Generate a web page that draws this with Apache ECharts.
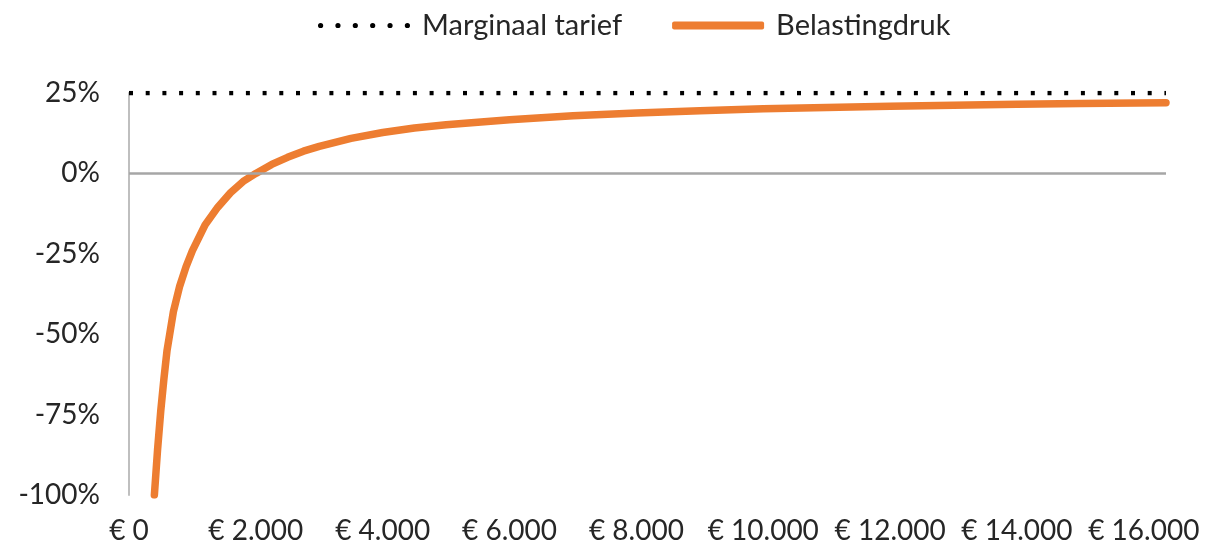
<!DOCTYPE html>
<html>
<head>
<meta charset="utf-8">
<script src="https://cdn.jsdelivr.net/npm/echarts@6/dist/echarts.min.js"></script>
<style>
  html, body { margin: 0; padding: 0; background: #fff; }
  #chart { width: 1208px; height: 551px; }
</style>
</head>
<body>
<div id="chart"></div>
<script>
// Income (€) and effective tax rate (%)
const incomes = [400, 450, 500, 550, 600, 700, 800, 900, 1000, 1200, 1400, 1600, 1800, 2000, 2250, 2500, 2750, 3000, 3500, 4000, 4500, 5000, 6000, 7000, 8000, 9000, 10000, 11000, 12000, 13000, 14000, 15000, 16350];
const belastingdruk = [-100, -86, -74, -64, -55, -43, -35, -29, -24, -16, -10.5, -6, -2.5, 0, 2.8, 5, 6.9, 8.4, 10.9, 12.7, 14.1, 15.1, 16.7, 17.9, 18.8, 19.5, 20.1, 20.5, 20.9, 21.2, 21.5, 21.7, 22];
const marginaalIncomes = [0, 16350];
const marginaalTarief = [25, 25];
const seriesNames = ['Marginaal tarief', 'Belastingdruk'];
const yTicks = { min: -100, max: 25, interval: 25 };
const xTicks = { min: 0, max: 16350, interval: 2000 };

function euro(v) {
  return '€ ' + String(Math.round(v)).replace(/\B(?=(\d{3})+(?!\d))/g, '.');
}

// legend icon: six dots (box padded with move-to points to 92x8)
function dotsIcon() {
  let p = 'path://M0 0 M92 8 ';
  const r = 2.6;
  for (let i = 0; i < 6; i++) {
    const cx = 2.6 + i * 17.36;
    p += 'M' + (cx - r) + ' 4 a' + r + ' ' + r + ' 0 1 0 ' + (2 * r) + ' 0 a' + r + ' ' + r + ' 0 1 0 ' + (-2 * r) + ' 0 Z ';
  }
  return p;
}

const FONT = 'Lato';
const chart = echarts.init(document.getElementById('chart'));
chart.setOption({
  animation: false,
  textStyle: { fontFamily: FONT },
  legend: {
    top: 6,
    left: 313,
    itemWidth: 92,
    itemHeight: 8,
    itemGap: 50,
    textStyle: { fontFamily: FONT, fontSize: 29, color: '#262626', padding: [0, 0, 0, 7] },
    data: [
      { name: seriesNames[0], icon: dotsIcon(), itemStyle: { color: '#000', borderWidth: 0 } },
      { name: seriesNames[1], icon: 'roundRect', itemStyle: { color: '#ED7D31', borderWidth: 0 } }
    ]
  },
  grid: { left: 129, right: 42, top: 93, bottom: 56, containLabel: false },
  xAxis: {
    type: 'value',
    min: xTicks.min,
    max: xTicks.max,
    interval: xTicks.interval,
    axisLine: { show: false },
    axisTick: { show: false },
    splitLine: { show: false },
    axisLabel: {
      showMaxLabel: false,
      margin: 22,
      fontFamily: FONT,
      fontSize: 28,
      color: '#262626',
      formatter: euro
    }
  },
  yAxis: {
    type: 'value',
    min: yTicks.min,
    max: yTicks.max,
    interval: yTicks.interval,
    axisLine: { show: true, onZero: false, lineStyle: { color: '#BFBFBF', width: 2 } },
    axisTick: { show: false },
    splitLine: { show: false },
    axisLabel: {
      margin: 29,
      fontFamily: FONT,
      fontSize: 28,
      color: '#262626',
      formatter: v => v + '%'
    }
  },
  series: [
    {
      name: seriesNames[0],
      type: 'line',
      symbol: 'none',
      data: marginaalIncomes.map((x, i) => [x, marginaalTarief[i]]),
      lineStyle: { color: '#000', width: 4.5, type: [4, 12.7], cap: 'butt' },
      itemStyle: { color: '#000' },
      z: 2,
      markLine: {
        silent: true,
        symbol: 'none',
        label: { show: false },
        lineStyle: { color: '#A6A6A6', width: 2.5, type: 'solid' },
        data: [{ yAxis: 0 }],
        animation: false
      }
    },
    {
      name: seriesNames[1],
      type: 'line',
      symbol: 'none',
      smooth: false,
      data: incomes.map((x, i) => [x, belastingdruk[i]]),
      lineStyle: { color: '#ED7D31', width: 7.5, cap: 'round', join: 'round' },
      itemStyle: { color: '#ED7D31' },
      z: 3
    }
  ]
});
</script>
</body>
</html>
